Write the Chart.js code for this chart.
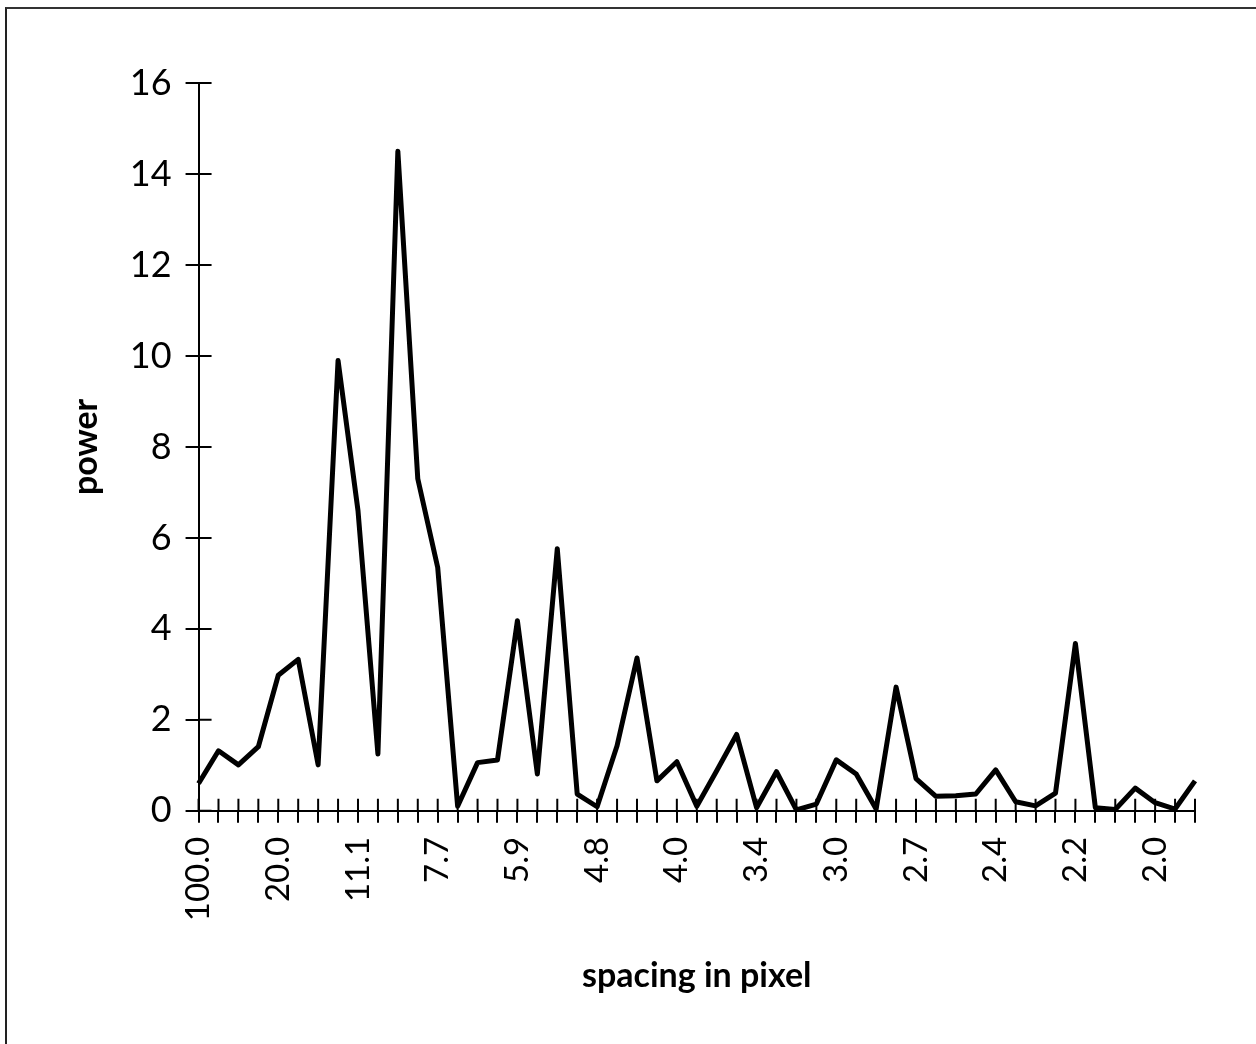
<!DOCTYPE html>
<html>
<head>
<meta charset="utf-8">
<script src="https://cdn.jsdelivr.net/npm/chart.js@4/dist/chart.umd.min.js"></script>
<style>
  body { margin: 0; background: #fff; }
  #wrap { position: relative; width: 1256px; height: 1044px; }
  #frame { position: absolute; left: 5px; top: 7px; right: 0; bottom: 0; border-left: 2px solid #222; border-top: 2px solid #333; }
  canvas { position: absolute; left: 0; top: 0; }
</style>
</head>
<body>
<div id="wrap">
  <div id="frame"></div>
  <canvas id="canvas" width="1256" height="1044"></canvas>
</div>
<script>
// spacing in pixel (100 / k)
var spacing = ["100.0", "50.0", "33.3", "25.0", "20.0", "16.7", "14.3", "12.5", "11.1", "10.0",
    "9.1", "8.3", "7.7", "7.1", "6.7", "6.3", "5.9", "5.6", "5.3", "5.0",
    "4.8", "4.5", "4.3", "4.2", "4.0", "3.8", "3.7", "3.6", "3.4", "3.3",
    "3.2", "3.1", "3.0", "2.9", "2.9", "2.8", "2.7", "2.6", "2.6", "2.5",
    "2.4", "2.4", "2.3", "2.3", "2.2", "2.2", "2.1", "2.1", "2.0", "2.0", "2.0"];

var power = [0.6, 1.32, 1.01, 1.41, 2.98, 3.33, 1.01, 9.9, 6.6, 1.25,
    14.5, 7.3, 5.35, 0.1, 1.06, 1.12, 4.18, 0.81, 5.76, 0.37,
    0.09, 1.43, 3.36, 0.66, 1.08, 0.1, 0.88, 1.68, 0.07, 0.86,
    0.02, 0.15, 1.12, 0.81, 0.04, 2.72, 0.71, 0.32, 0.33, 0.37,
    0.9, 0.2, 0.11, 0.39, 3.68, 0.07, 0.03, 0.5, 0.18, 0.04, 0.66];

var yTicks = [0, 2, 4, 6, 8, 10, 12, 14, 16];

var fontFamily = "Lato, 'DejaVu Sans', sans-serif";

// tick marks crossing the axis: draw the inner half
var innerTicks = {
    id: 'innerTicks',
    beforeDatasetsDraw: function(chart) {
        var ctx = chart.ctx;
        var xs = chart.scales.x, ys = chart.scales.y;
        ctx.save();
        ctx.strokeStyle = '#000';
        ctx.lineWidth = 2;
        ctx.beginPath();
        for (var i = 0; i < xs.ticks.length; i++) {
            var x = xs.getPixelForTick(i);
            ctx.moveTo(x, ys.bottom);
            ctx.lineTo(x, ys.bottom - 12);
        }
        for (var j = 0; j < ys.ticks.length; j++) {
            var y = ys.getPixelForTick(j);
            ctx.moveTo(xs.left, y);
            ctx.lineTo(xs.left + 13, y);
        }
        ctx.stroke();
        ctx.restore();
    }
};

var config = {
    type: 'line',
    data: {
        labels: spacing,
        datasets: [{
            label: 'power',
            data: power,
            borderColor: '#000',
            borderWidth: 5,
            borderJoinStyle: 'round',
            pointRadius: 0,
            tension: 0,
            fill: false
        }]
    },
    options: {
        responsive: false,
        animation: false,
        layout: {
            padding: { left: 66, right: 61, top: 83, bottom: 48 }
        },
        plugins: {
            legend: { display: false },
            tooltip: { enabled: false }
        },
        scales: {
            x: {
                type: 'category',
                offset: false,
                grid: { drawOnChartArea: false, drawTicks: true, tickLength: 12, color: '#000', lineWidth: 2 },
                border: { color: '#000', width: 2 },
                ticks: {
                    autoSkip: false,
                    minRotation: 90,
                    maxRotation: 90,
                    padding: 14,
                    color: '#000',
                    font: { family: fontFamily, size: 33 },
                    callback: function(v, i) {
                        return i % 4 === 0 ? spacing[i] : '';
                    }
                },
                title: {
                    display: true,
                    text: 'spacing in pixel',
                    color: '#000',
                    font: { family: fontFamily, size: 34, weight: 'bold' },
                    padding: { top: 20, bottom: 0 }
                }
            },
            y: {
                min: 0,
                max: 16,
                afterBuildTicks: function(axis) {
                    axis.ticks = yTicks.map(function(v) { return { value: v }; });
                },
                grid: { drawOnChartArea: false, drawTicks: true, tickLength: 13, color: '#000', lineWidth: 2 },
                border: { color: '#000', width: 2 },
                ticks: {
                    padding: 14,
                    color: '#000',
                    font: { family: fontFamily, size: 36 }
                },
                title: {
                    display: true,
                    text: 'power',
                    color: '#000',
                    font: { family: fontFamily, size: 34, weight: 'bold' },
                    padding: { top: 0, bottom: 9 }
                }
            }
        }
    },
    plugins: [innerTicks]
};

window.onload = function() {
    window.myLine = new Chart(document.getElementById('canvas'), config);
};
</script>
</body>
</html>
